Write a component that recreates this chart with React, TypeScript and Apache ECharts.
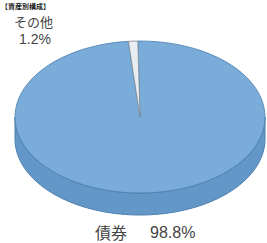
import React, { useEffect, useRef } from "react";
import * as echarts from "echarts";

const title = "【資産別構成】";
const categories = ["債券", "その他"];
const values = [98.8, 1.2];
const percentLabels = ["98.8%", "1.2%"];

export default function App() {
  const ref = useRef<HTMLDivElement>(null);
  useEffect(() => {
    const chart = echarts.init(ref.current!, null, { renderer: "svg" });
    const total = values.reduce((a, b) => a + b, 0);
    const cx = 140, cy = 117, rx = 125, ry = 76, depth = 22;
    const start = -Math.PI / 2 - (1 * Math.PI) / 180;
    const faceColors = ["#79acd9", "#e8edf1"];
    const sideColors = ["#6397c8", "#c8d0d6"];
    const strokeColors = ["#4d7eae", "#7f8a94"];
    const renderItem = (params: any, api: any) => {
      const i = params.dataIndex;
      let acc = 0;
      for (let k = 0; k < i; k++) acc += values[k];
      const a0 = start + (acc / total) * 2 * Math.PI;
      const a1 = a0 + (api.value(0) / total) * 2 * Math.PI;
      const children: any[] = [];
      for (let k = -1; k <= 1; k++) {
        const lo = Math.max(a0, 2 * Math.PI * k);
        const hi = Math.min(a1, 2 * Math.PI * k + Math.PI);
        if (hi > lo) {
          const n = 80;
          const top: number[][] = [];
          const bot: number[][] = [];
          for (let j = 0; j <= n; j++) {
            const a = lo + ((hi - lo) * j) / n;
            top.push([cx + rx * Math.cos(a), cy + ry * Math.sin(a)]);
            bot.push([cx + rx * Math.cos(a), cy + ry * Math.sin(a) + depth]);
          }
          children.push({
            type: "polygon",
            shape: { points: top.concat(bot.reverse()) },
            style: { fill: sideColors[i], stroke: strokeColors[i], lineWidth: 1 },
          });
        }
      }
      children.push({
        type: "sector",
        x: cx,
        y: cy,
        scaleY: ry / rx,
        shape: { cx: 0, cy: 0, r0: 0, r: rx, startAngle: a0, endAngle: a1, clockwise: true },
        style: { fill: faceColors[i], stroke: strokeColors[i], lineWidth: 1, strokeNoScale: true },
      });
      return { type: "group", children };
    };
    const cjk = "'Noto Sans CJK JP', sans-serif";
    const latin = "'Liberation Sans', Arial, sans-serif";
    chart.setOption({
      animation: false,
      backgroundColor: "#ffffff",
      series: [
        {
          type: "custom",
          coordinateSystem: "none",
          renderItem,
          data: values.map((v) => [v]),
          silent: true,
        },
      ],
      graphic: [
        {
          type: "text",
          x: 1,
          y: 5.5,
          style: { text: title, fontSize: 7, lineHeight: 7, fontWeight: "bold", fill: "#222", fontFamily: cjk, verticalAlign: "middle" },
        },
        {
          type: "text",
          x: 14,
          y: 21,
          style: {
            text: categories[1],
            fontSize: 13,
            lineHeight: 13,
            verticalAlign: "middle",
            fill: "#444",
            fontFamily: cjk,
          },
        },
        {
          type: "text",
          x: 35,
          y: 38.5,
          style: {
            text: percentLabels[1],
            fontSize: 14,
            lineHeight: 14,
            align: "center",
            verticalAlign: "middle",
            fill: "#444",
            fontFamily: latin,
          },
        },
        {
          type: "text",
          x: 95,
          y: 232,
          style: {
            text: categories[0],
            fontSize: 16,
            lineHeight: 16,
            verticalAlign: "middle",
            fill: "#444",
            fontFamily: cjk,
          },
        },
        {
          type: "text",
          x: 150,
          y: 232,
          style: {
            text: percentLabels[0],
            fontSize: 16,
            lineHeight: 16,
            verticalAlign: "middle",
            fill: "#444",
            fontFamily: latin,
          },
        },
      ],
    });
    return () => chart.dispose();
  }, []);
  return <div ref={ref} style={{ position: "fixed", left: 0, top: 0, width: 267, height: 243 }} />;
}
